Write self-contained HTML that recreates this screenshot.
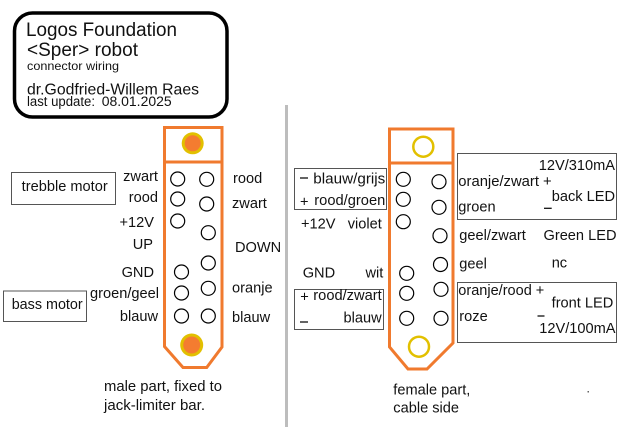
<!DOCTYPE html>
<html>
<head>
<meta charset="utf-8">
<style>
html,body{margin:0;padding:0;background:#fff;}
svg{display:block;}
text{font-family:"Liberation Sans",Arial,sans-serif;fill:#111;}
.l{font-size:14.6px;}
</style>
</head>
<body>
<svg width="624" height="427" viewBox="0 0 624 427" xmlns="http://www.w3.org/2000/svg">
<rect x="0" y="0" width="624" height="427" fill="#fff"/>

<!-- Title box -->
<rect x="14.5" y="13" width="212.5" height="104" rx="18" ry="18" fill="#fff" stroke="#000" stroke-width="3.5"/>
<text x="26" y="36" style="font-size:19px" textLength="151" lengthAdjust="spacingAndGlyphs">Logos Foundation</text>
<text x="27" y="56" style="font-size:19px" textLength="111" lengthAdjust="spacingAndGlyphs">&lt;Sper&gt; robot</text>
<text x="27" y="70" style="font-size:12px" textLength="92" lengthAdjust="spacingAndGlyphs">connector wiring</text>
<text x="27" y="94.5" style="font-size:16px" textLength="172" lengthAdjust="spacingAndGlyphs">dr.Godfried-Willem Raes</text>
<text x="27" y="106" style="font-size:13.5px" textLength="68" lengthAdjust="spacingAndGlyphs">last update:</text>
<text x="101.7" y="106" style="font-size:14px" textLength="70" lengthAdjust="spacingAndGlyphs">08.01.2025</text>

<!-- vertical divider -->
<rect x="285" y="105" width="3" height="322" fill="#bdbdbd"/>

<!-- Male connector -->
<path d="M164.5,127.5 L222,127.5 L222,347 L206.7,367.5 L183,367.5 L164.5,346.5 Z" fill="none" stroke="#F07A2E" stroke-width="3"/>
<line x1="164.5" y1="162" x2="222" y2="162" stroke="#F07A2E" stroke-width="3"/>
<circle cx="192.7" cy="143.3" r="11" fill="#E2C000"/>
<circle cx="192.7" cy="143.3" r="8" fill="#F47C30"/>
<circle cx="191.7" cy="345" r="11.5" fill="#E2C000"/>
<circle cx="191.7" cy="345" r="8.5" fill="#F47C30"/>
<g fill="#fff" stroke="#000" stroke-width="1.2">
<circle cx="177.7" cy="179" r="7"/>
<circle cx="177.7" cy="199" r="7"/>
<circle cx="177.7" cy="221" r="7"/>
<circle cx="181.5" cy="272" r="7"/>
<circle cx="181.5" cy="293" r="7"/>
<circle cx="181.5" cy="316" r="7"/>
<circle cx="206.7" cy="179.3" r="7"/>
<circle cx="206.7" cy="204" r="7"/>
<circle cx="208.3" cy="232.7" r="7"/>
<circle cx="208.3" cy="263" r="7"/>
<circle cx="208.3" cy="288.3" r="7"/>
<circle cx="208.3" cy="316" r="7"/>
</g>

<!-- Male labels -->
<rect x="11.5" y="172.5" width="104" height="32" fill="none" stroke="#555" stroke-width="1"/>
<text class="l" x="21.7" y="191" textLength="86" lengthAdjust="spacingAndGlyphs">trebble motor</text>
<rect x="3.5" y="291" width="83" height="30.5" fill="none" stroke="#555" stroke-width="1"/>
<text class="l" x="11.7" y="309" textLength="71" lengthAdjust="spacingAndGlyphs">bass motor</text>

<text class="l" x="158" y="181" text-anchor="end">zwart</text>
<text class="l" x="158" y="202" text-anchor="end">rood</text>
<text class="l" x="154" y="227" text-anchor="end">+12V</text>
<text class="l" x="153" y="249" text-anchor="end">UP</text>
<text class="l" x="154" y="277" text-anchor="end">GND</text>
<text class="l" x="159" y="298" text-anchor="end">groen/geel</text>
<text class="l" x="158" y="321" text-anchor="end">blauw</text>

<text class="l" x="233" y="183">rood</text>
<text class="l" x="232" y="208">zwart</text>
<text class="l" x="235" y="252">DOWN</text>
<text class="l" x="232" y="292.5">oranje</text>
<text class="l" x="232" y="322">blauw</text>

<text class="l" x="104" y="391" textLength="118" lengthAdjust="spacingAndGlyphs">male part, fixed to</text>
<text class="l" x="104" y="410" textLength="101" lengthAdjust="spacingAndGlyphs">jack-limiter bar.</text>

<!-- Female connector -->
<path d="M389.5,129 L453,129 L453,343 L427,369 L408,369 L389.5,347 Z" fill="none" stroke="#F07A2E" stroke-width="3"/>
<line x1="389.5" y1="163" x2="453" y2="163" stroke="#F07A2E" stroke-width="3"/>
<circle cx="423.3" cy="146.7" r="10" fill="none" stroke="#E2C000" stroke-width="2.5"/>
<circle cx="419" cy="346.7" r="10" fill="none" stroke="#E2C000" stroke-width="2.5"/>
<g fill="#fff" stroke="#000" stroke-width="1.2">
<circle cx="403.3" cy="179.3" r="7"/>
<circle cx="403.3" cy="199.3" r="7"/>
<circle cx="403.3" cy="221.7" r="7"/>
<circle cx="406.7" cy="273.3" r="7"/>
<circle cx="406.7" cy="293.3" r="7"/>
<circle cx="406.7" cy="318.3" r="7"/>
<circle cx="439" cy="181.7" r="7"/>
<circle cx="439" cy="207.3" r="7"/>
<circle cx="440" cy="235.7" r="7"/>
<circle cx="440.5" cy="264.5" r="7"/>
<circle cx="441" cy="289.3" r="7"/>
<circle cx="441" cy="318.3" r="7"/>
</g>

<!-- Female left labels -->
<rect x="294.5" y="168.5" width="92" height="41" fill="none" stroke="#555" stroke-width="1"/>
<line x1="300" y1="178" x2="308" y2="178" stroke="#111" stroke-width="1.3"/>
<text class="l" x="313.3" y="183.3" textLength="72" lengthAdjust="spacingAndGlyphs">blauw/grijs</text>
<text class="l" x="300" y="206.5">+</text>
<text class="l" x="314.3" y="205" textLength="71" lengthAdjust="spacingAndGlyphs">rood/groen</text>
<text class="l" x="301" y="228.3">+12V</text>
<text class="l" x="347.7" y="228.3">violet</text>
<text class="l" x="302.7" y="277.3">GND</text>
<text class="l" x="383.3" y="277.3" text-anchor="end">wit</text>
<rect x="294.5" y="289.5" width="89" height="40" fill="none" stroke="#555" stroke-width="1"/>
<text class="l" x="300.2" y="301.5">+</text>
<text class="l" x="313.3" y="300" textLength="68.4" lengthAdjust="spacingAndGlyphs">rood/zwart</text>
<line x1="300" y1="322" x2="308" y2="322" stroke="#111" stroke-width="1.3"/>
<text class="l" x="381.7" y="322.3" text-anchor="end">blauw</text>

<text class="l" x="393.3" y="394.3">female part,</text>
<text class="l" x="393.3" y="412.7">cable side</text>
<rect x="587.5" y="391" width="1.5" height="1.5" fill="#666"/>

<!-- Right boxes -->
<rect x="457.5" y="153.5" width="159" height="66" fill="none" stroke="#555" stroke-width="1"/>
<text class="l" x="615" y="170" text-anchor="end">12V/310mA</text>
<text class="l" x="458.3" y="186" textLength="93.4" lengthAdjust="spacingAndGlyphs">oranje/zwart +</text>
<text class="l" x="615" y="201" text-anchor="end">back LED</text>
<text class="l" x="458.3" y="211.7">groen</text>
<line x1="544" y1="208.3" x2="551.7" y2="208.3" stroke="#111" stroke-width="1.3"/>

<text class="l" x="459.3" y="240">geel/zwart</text>
<text class="l" x="616.5" y="240" text-anchor="end">Green LED</text>
<text class="l" x="459.3" y="268.3">geel</text>
<text class="l" x="551.7" y="267.7">nc</text>

<rect x="457.5" y="282.5" width="159" height="60" fill="none" stroke="#555" stroke-width="1"/>
<text class="l" x="458.3" y="295" textLength="86" lengthAdjust="spacingAndGlyphs">oranje/rood +</text>
<text class="l" x="613.3" y="307.7" text-anchor="end">front LED</text>
<text class="l" x="459.3" y="321">roze</text>
<line x1="537.5" y1="316" x2="544.5" y2="316" stroke="#111" stroke-width="1.3"/>
<text class="l" x="615.5" y="333" text-anchor="end">12V/100mA</text>
</svg>
</body>
</html>
